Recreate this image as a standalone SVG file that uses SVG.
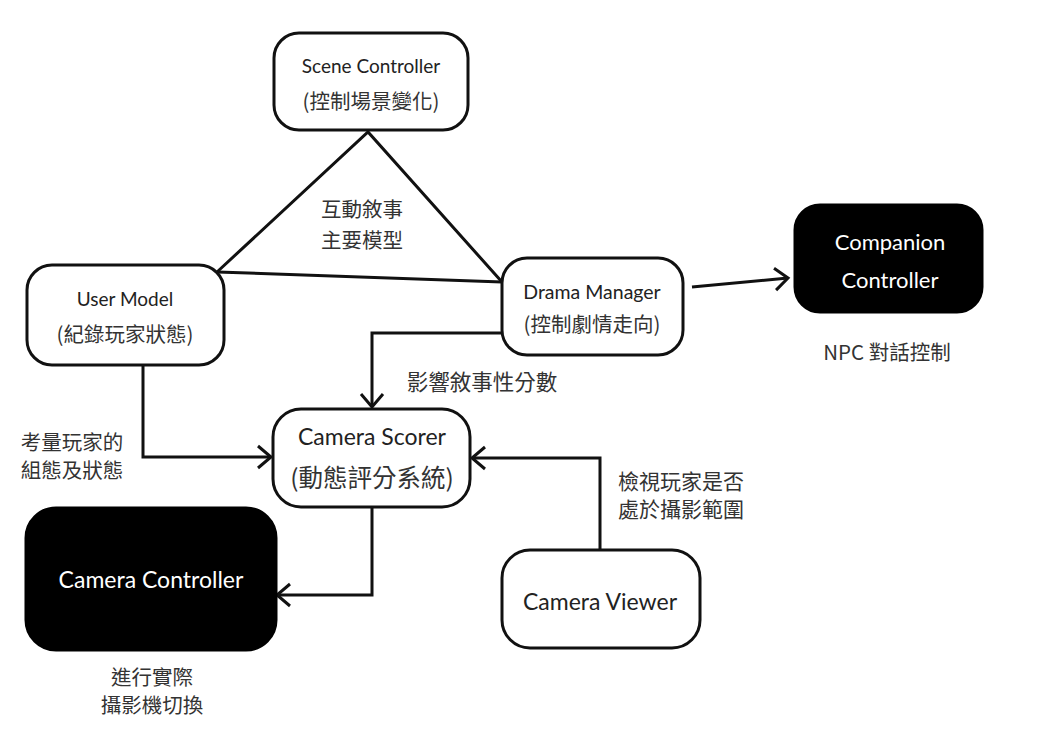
<svg xmlns="http://www.w3.org/2000/svg" width="1050" height="740" viewBox="0 0 1050 740">
<style>
.box{fill:#fff;stroke:#111;stroke-width:3}
.dark{fill:#000;stroke:#000;stroke-width:3}
.en{font-family:Lato,"Noto Sans","Noto Sans CJK TC",sans-serif;fill:#222;text-anchor:middle}
.zh{font-family:"Noto Sans CJK TC","Noto Sans CJK SC",sans-serif;fill:#333;text-anchor:middle}
.w{fill:#fff}
.conn{fill:none;stroke:#111;stroke-width:3}
</style>
<defs>
<marker id="arr" viewBox="-16 -14 20 28" refX="0" refY="0" markerWidth="20" markerHeight="28" markerUnits="userSpaceOnUse" orient="auto">
<path d="M-13,-11 L0,0 L-13,11" fill="none" stroke="#111" stroke-width="3"/>
</marker>
</defs>
<rect width="1050" height="740" fill="#fff"/>
<g id="connectors">
<path class="conn" d="M217,272 L368,132 L502,282"/>
<path class="conn" d="M217,272 L502,282"/>
<path class="conn" d="M692,287 L788,278" marker-end="url(#arr)"/>
<path class="conn" d="M502,333 H372 V407" marker-end="url(#arr)"/>
<path class="conn" d="M143,365 V457 H271" marker-end="url(#arr)"/>
<path class="conn" d="M600,550 V458 H472" marker-end="url(#arr)"/>
<path class="conn" d="M372,507 V595 H277" marker-end="url(#arr)"/>
</g>
<g id="scene-controller">
<rect class="box" x="274" y="33" width="194" height="97" rx="25"/>
<text class="en" x="371" y="73" font-size="19">Scene Controller</text>
<text class="zh" x="371" y="109" font-size="20.5">(控制場景變化)</text>
</g>
<g id="triangle-label">
<text class="zh" x="362" y="217" font-size="20.5">互動敘事</text>
<text class="zh" x="362" y="248" font-size="20.5">主要模型</text>
</g>
<g id="user-model">
<rect class="box" x="27" y="265" width="197" height="100" rx="25"/>
<text class="en" x="125" y="306" font-size="19">User Model</text>
<text class="zh" x="125" y="342" font-size="20.5">(紀錄玩家狀態)</text>
</g>
<g id="drama-manager">
<rect class="box" x="502" y="258" width="181" height="97" rx="25"/>
<text class="en" x="592" y="299" font-size="19.5">Drama Manager</text>
<text class="zh" x="592" y="332" font-size="20.5">(控制劇情走向)</text>
</g>
<g id="companion-controller">
<rect class="dark" x="795" y="205" width="187" height="107" rx="25"/>
<text class="en w" x="890" y="250" font-size="22">Companion</text>
<text class="en w" x="890" y="288" font-size="22">Controller</text>
<text class="zh" x="887" y="360" font-size="20.5">NPC 對話控制</text>
</g>
<g id="camera-scorer">
<rect class="box" x="273" y="409" width="197" height="98" rx="28"/>
<text class="en" x="372" y="445" font-size="23">Camera Scorer</text>
<text class="zh" x="372" y="487" font-size="24.5">(動態評分系統)</text>
</g>
<g id="labels">
<text class="zh" x="482" y="390" font-size="21.5">影響敘事性分數</text>
<text class="zh" x="72" y="450" font-size="20.5">考量玩家的</text>
<text class="zh" x="72" y="478" font-size="20.5">組態及狀態</text>
<text class="zh" x="681" y="489" font-size="21">檢視玩家是否</text>
<text class="zh" x="681" y="517" font-size="21">處於攝影範圍</text>
</g>
<g id="camera-viewer">
<rect class="box" x="502" y="550" width="198" height="98" rx="28"/>
<text class="en" x="600" y="610" font-size="23">Camera Viewer</text>
</g>
<g id="camera-controller">
<rect class="dark" x="26" y="508" width="250" height="142" rx="30"/>
<text class="en w" x="151" y="588" font-size="23">Camera Controller</text>
<text class="zh" x="152" y="685" font-size="20.5">進行實際</text>
<text class="zh" x="152" y="713" font-size="20.5">攝影機切換</text>
</g>
</svg>
